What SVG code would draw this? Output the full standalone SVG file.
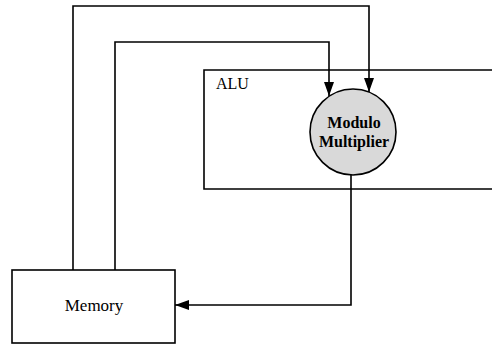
<svg xmlns="http://www.w3.org/2000/svg" width="492" height="345" viewBox="0 0 492 345">
<defs>
<style>
.ln{fill:none;stroke:#000;stroke-width:1.6}
.box{fill:#fff;stroke:#000;stroke-width:1.6}
.t{font-family:"Liberation Serif",serif;fill:#000}
</style>
<marker id="ah" viewBox="0 0 14 10" refX="14" refY="5" markerWidth="14" markerHeight="10" markerUnits="userSpaceOnUse" orient="auto">
<path d="M0,0 L14,5 L0,10 z" fill="#000"/>
</marker>
</defs>
<g id="alu">
<path class="ln" d="M492,70 H204 V189 H492"/>
<text class="t" x="216" y="89" font-size="16">ALU</text>
</g>
<g id="memory">
<rect class="box" x="12" y="270" width="163" height="73"/>
<text class="t" x="94" y="311" font-size="17" text-anchor="middle">Memory</text>
</g>
<g id="multiplier">
<circle cx="353" cy="132" r="43" fill="#d9d9d9" stroke="#000" stroke-width="1.6"/>
<text class="t" x="354" y="128" font-size="16" font-weight="bold" text-anchor="middle">Modulo</text>
<text class="t" x="354" y="147" font-size="16" font-weight="bold" text-anchor="middle">Multiplier</text>
</g>
<g id="connectors">
<path class="ln" d="M73,270 V6 H369 V92" marker-end="url(#ah)"/>
<path class="ln" d="M115,270 V42 H329 V96" marker-end="url(#ah)"/>
<path class="ln" d="M351,175 V305 H175" marker-end="url(#ah)"/>
</g>
</svg>
